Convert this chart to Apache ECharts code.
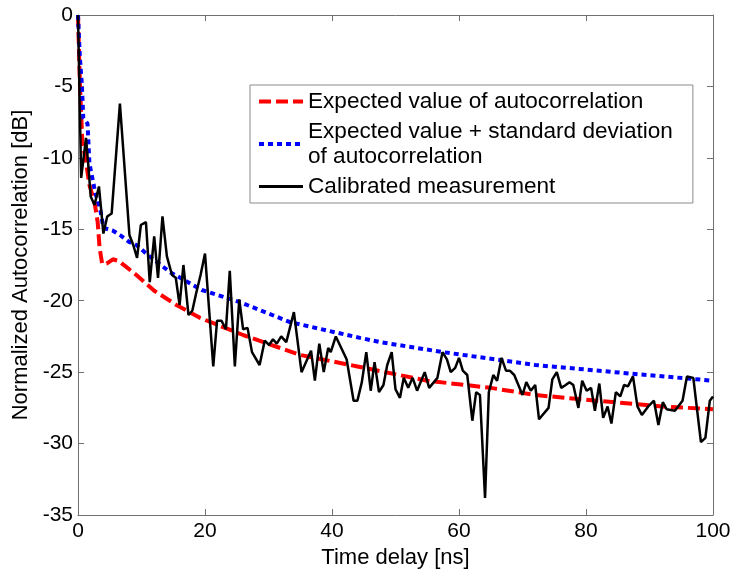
<!DOCTYPE html>
<html>
<head>
<meta charset="utf-8">
<script src="https://cdn.jsdelivr.net/npm/echarts@6/dist/echarts.min.js"></script>
<style>
html,body{margin:0;padding:0;background:#fff;}
#c{width:736px;height:577px;}
</style>
</head>
<body>
<div id="c"></div>
<script>
// ---- data ----
const seriesNames = [
  'Expected value of autocorrelation',
  'Expected value + standard deviation\nof autocorrelation',
  'Calibrated measurement'
];
const xTicks = [0, 20, 40, 60, 80, 100];
const yTicks = [-35, -30, -25, -20, -15, -10, -5, 0];

const expX = [0, 0.3, 0.7, 1.1, 1.8, 2.6, 3.1, 3.4, 3.8, 4.5, 5.5, 6.3, 7.5, 9.2, 12, 15.5, 19.2, 26, 35, 44, 55, 65, 72, 81.7, 92, 100];
const expY = [0, -4.8, -9.1, -9.8, -11.9, -13.1, -14.5, -16.3, -17.4, -17.4, -17.1, -17.2, -17.6, -18.2, -19.3, -20.3, -21.2, -22.4, -23.8, -24.6, -25.6, -26.1, -26.6, -27.0, -27.4, -27.6];

const stdX = [0, 0.3, 0.6, 0.83, 1.5, 1.8, 2.7, 3.5, 4.0, 5.5, 6.6, 8.1, 9.2, 11, 14.5, 19.5, 25.5, 33.4, 44.4, 47.6, 57.5, 72, 87, 100];
const stdY = [0, -3.0, -4.8, -7.2, -7.6, -10.4, -12.4, -13.6, -14.9, -15.1, -15.4, -15.9, -16.1, -16.8, -18.0, -19.25, -20.1, -21.5, -22.6, -22.9, -23.6, -24.5, -25.1, -25.6];

const measX = [0, 0.5, 1.26, 1.6, 2.0, 2.6, 3.3, 4.0, 4.6, 5.3, 6.6, 8.1, 8.7, 9.3, 9.9, 10.7, 11.3, 12.0, 12.6, 13.3, 14.0, 14.8, 15.4, 16.0, 16.6, 17.4, 18.0, 18.6, 19.3, 20.0,
  21.3, 21.9, 22.6, 23.3, 23.9, 24.7, 25.4, 26.0, 26.7, 27.4, 28.6, 29.4, 30.1, 30.7, 31.3, 32.0, 32.8, 34.0, 35.2, 36.7, 37.3, 38.0, 38.7, 39.4, 39.8,
  40.6, 42.3, 43.4, 44.0, 44.7, 45.4, 46.1, 46.7, 47.4, 48.1, 48.7, 49.4, 50.0, 50.7, 51.3, 52.0, 52.7, 53.4, 54.6, 55.3, 56.6, 57.4, 58.1, 58.7, 59.4,
  60.0, 60.6, 61.3, 62.1, 62.7, 63.3, 64.1, 64.7, 65.4, 66.0, 66.7, 67.4, 68.0, 68.7, 70.0, 70.6, 71.3, 72.0, 72.6, 74.1, 74.7, 75.4, 76.1, 76.8, 77.4,
  78.0, 78.8, 79.4, 80.1, 80.8, 81.4, 82.1, 82.7, 83.4, 84.0, 84.7, 85.4, 86.0, 86.6, 87.4, 88.1, 88.8, 89.8, 90.7, 91.4, 92.1, 92.7, 94.0, 95.2, 95.9,
  96.9, 98.1, 98.8, 99.5, 100];
const measY = [0, -11.4, -8.6, -10.4, -12.7, -13.3, -12.0, -15.3, -14.1, -13.9, -6.2, -15.4, -16.1, -17.0, -14.7, -14.5, -18.7, -15.5, -18.4, -14.1, -16.9, -18.2, -18.4, -20.3, -17.5, -21.0, -20.7, -19.5, -18.2, -16.7,
  -24.6, -21.4, -21.4, -22.0, -17.9, -24.6, -19.9, -22.0, -21.9, -23.6, -24.5, -22.8, -23.1, -22.7, -23.0, -22.5, -22.9, -20.8, -25.0, -23.5, -25.6, -23.0, -25.0, -23.3, -23.6,
  -22.5, -24.1, -27.0, -27.0, -25.7, -23.6, -26.3, -24.3, -26.4, -25.9, -24.5, -23.6, -26.2, -26.8, -25.4, -26.1, -25.4, -26.3, -25.0, -26.1, -25.4, -23.6, -24.1, -25.0, -24.7,
  -24.0, -24.9, -25.2, -28.4, -26.4, -26.6, -33.8, -26.4, -25.2, -25.6, -24.0, -24.9, -24.9, -25.2, -26.6, -25.7, -26.3, -25.9, -28.3, -27.5, -25.5, -25.0, -26.1, -25.9, -25.7,
  -25.9, -27.5, -25.6, -26.3, -26.1, -27.7, -25.8, -28.2, -27.4, -28.6, -26.4, -26.7, -25.9, -26.0, -25.3, -27.4, -28.0, -27.4, -27.0, -28.7, -27.1, -27.6, -27.7, -27.0, -25.3,
  -25.4, -29.9, -29.6, -27.0, -26.7];

// ---- chart ----
const pairs = (xs, ys) => xs.map((x, i) => [x, ys[i]]);
const FONT = '"Liberation Sans", Arial, sans-serif';
const AX = '#707070';

const chart = echarts.init(document.getElementById('c'), null, {renderer: 'canvas'});

const xCommon = {
  type: 'value', min: xTicks[0], max: xTicks[xTicks.length - 1], interval: 20,
  axisTick: {show: true, inside: true, length: 6, lineStyle: {color: AX}},
  splitLine: {show: false}
};
const yCommon = {
  type: 'value', min: yTicks[0], max: yTicks[yTicks.length - 1], interval: 5,
  axisLine: {show: true, onZero: false, lineStyle: {color: AX, width: 1}},
  axisTick: {show: true, inside: true, length: 6, lineStyle: {color: AX}},
  splitLine: {show: false}
};

const lineStyles = [
  {color: '#ff0000', width: 4, type: [12, 5]},
  {color: '#0000ff', width: 4, type: [5, 4]},
  {color: '#000000', width: 2.5, type: 'solid'}
];
const legendWidths = [4, 4, 3];

chart.setOption({
  animation: false,
  backgroundColor: '#fff',
  textStyle: {fontFamily: FONT},
  grid: {left: 78, right: 23, top: 15, bottom: 62, containLabel: false},
  xAxis: [
    Object.assign({}, xCommon, {
      position: 'bottom',
      axisLine: {show: true, onZero: false, lineStyle: {color: AX, width: 1}},
      axisLabel: {show: true, color: '#000', fontSize: 21, fontFamily: FONT, margin: 6},
      name: 'Time delay [ns]', nameLocation: 'middle', nameGap: 29,
      nameTextStyle: {color: '#000', fontSize: 22, fontFamily: FONT}
    }),
    Object.assign({}, xCommon, {
      position: 'top',
      axisLine: {show: true, onZero: false, lineStyle: {color: AX, width: 1}},
      axisLabel: {show: false}
    })
  ],
  yAxis: [
    Object.assign({}, yCommon, {
      position: 'left',
      axisLabel: {show: true, color: '#000', fontSize: 21, fontFamily: FONT, margin: 5},
      name: 'Normalized Autocorrelation [dB]', nameLocation: 'middle', nameGap: 45,
      nameTextStyle: {color: '#000', fontSize: 22, fontFamily: FONT}
    }),
    Object.assign({}, yCommon, {
      position: 'right',
      axisLabel: {show: false}
    })
  ],
  legend: {
    orient: 'vertical',
    left: 250, top: 85,
    padding: [4, 20, 4, 7],
    itemGap: 5,
    itemWidth: 44,
    itemHeight: 14,
    backgroundColor: '#fff',
    borderColor: '#8a8a8a',
    borderWidth: 1,
    borderRadius: 0,
    textStyle: {color: '#000', fontSize: 22.6, fontFamily: FONT, lineHeight: 25},
    data: seriesNames.map((n, i) => ({
      name: n,
      itemStyle: {opacity: 0},
      lineStyle: {width: legendWidths[i], type: lineStyles[i].type, color: lineStyles[i].color}
    }))
  },
  series: seriesNames.map((n, i) => ({
    name: n, type: 'line', xAxisIndex: 0, yAxisIndex: 0,
    data: i === 0 ? pairs(expX, expY) : i === 1 ? pairs(stdX, stdY) : pairs(measX, measY),
    symbol: 'none', smooth: false,
    lineStyle: lineStyles[i],
    itemStyle: {color: lineStyles[i].color}, z: 2 + i
  }))
});
</script>
</body>
</html>
